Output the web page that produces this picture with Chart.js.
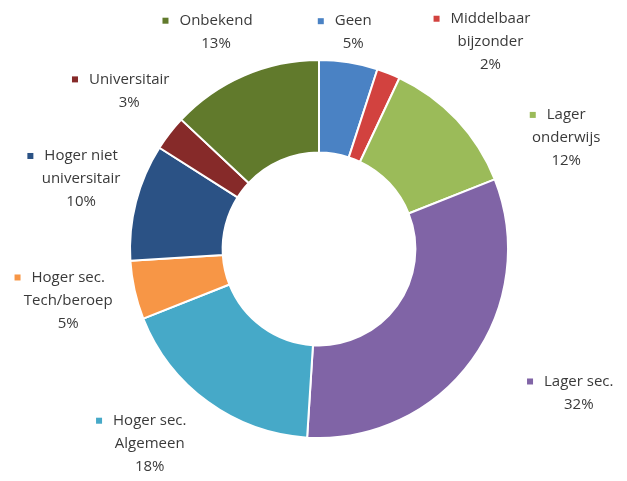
<!DOCTYPE html>
<html>
<head>
<meta charset="utf-8">
<script src="https://cdn.jsdelivr.net/npm/chart.js@4"></script>
<style>
  html, body { margin: 0; padding: 0; background: #ffffff; }
  #wrap { width: 627px; height: 481px; }
</style>
</head>
<body>
<div id="wrap"><canvas id="myChart" width="627" height="481"></canvas></div>
<script>
//Doughnut of education levels (clockwise from the top)

const categories = [
  ["Geen"],
  ["Middelbaar", "bijzonder"],
  ["Lager", "onderwijs"],
  ["Lager sec."],
  ["Hoger sec.", "Algemeen"],
  ["Hoger sec.", "Tech/beroep"],
  ["Hoger niet", "universitair"],
  ["Universitair"],
  ["Onbekend"]
];
const shares = [5, 2, 12, 32, 18, 5, 10, 3, 13]; //percent

const sliceColors = [
  "#4a82c4", "#d2423f", "#9bbb59", "#8064a6", "#46a9c8",
  "#f79646", "#2b5285", "#862a29", "#617a2c"
];

//where each label sits: angle shift (deg) from the slice middle, distance past the ring
const labelPlace = [
  { shift: 0, extra: 30 },
  { shift: 18, extra: 80 },
  { shift: 19, extra: 82 },
  { shift: -7, extra: 108 },
  { shift: 5, extra: 69 },
  { shift: 1, extra: 67 },
  { shift: 2, extra: 59 },
  { shift: 2, extra: 58 },
  { shift: -2, extra: 51 }
];

const outsideLabels = {
  id: "outsideLabels",
  afterDatasetsDraw(chart) {
    const ctx = chart.ctx;
    const meta = chart.getDatasetMeta(0);
    const data = chart.data.datasets[0].data;
    const total = data.reduce((a, b) => a + b, 0);
    const lineH = 23;
    ctx.save();
    ctx.font = "15px 'Open Sans'";
    ctx.textAlign = "center";
    ctx.textBaseline = "middle";
    meta.data.forEach((arc, i) => {
      const p = arc.getProps(["x", "y", "startAngle", "endAngle", "outerRadius"], true);
      const place = labelPlace[i];
      const mid = (p.startAngle + p.endAngle) / 2 + place.shift * Math.PI / 180;
      const r = p.outerRadius + place.extra;
      const cx = p.x + Math.cos(mid) * r;
      const cy = p.y + Math.sin(mid) * r;
      const lines = chart.data.labels[i].concat([Math.round(data[i] / total * 100) + "%"]);
      const top = cy - (lines.length - 1) * lineH / 2;
      ctx.fillStyle = "#3a3a3a";
      lines.forEach((ln, k) => {
        ctx.fillText(ln, cx, top + k * lineH);
      });
      //small square marker in front of the first line
      const w = ctx.measureText(lines[0]).width;
      ctx.fillStyle = chart.data.datasets[0].backgroundColor[i];
      ctx.fillRect(cx - w / 2 - 17, top - 3, 6, 6);
    });
    ctx.restore();
  }
};

const ctx = document.getElementById("myChart");
const myChart = new Chart(ctx, {
  type: "doughnut",
  data: {
    labels: categories,
    datasets: [
      {
        data: shares,
        backgroundColor: sliceColors,
        borderColor: "#ffffff",
        borderWidth: 2
      }
    ]
  },
  options: {
    responsive: false,
    animation: false,
    cutout: "51%",
    layout: {
      padding: { top: 59, bottom: 42, left: 129, right: 118 }
    },
    plugins: {
      legend: { display: false },
      tooltip: { enabled: false }
    }
  },
  plugins: [outsideLabels]
});
</script>
</body>
</html>
